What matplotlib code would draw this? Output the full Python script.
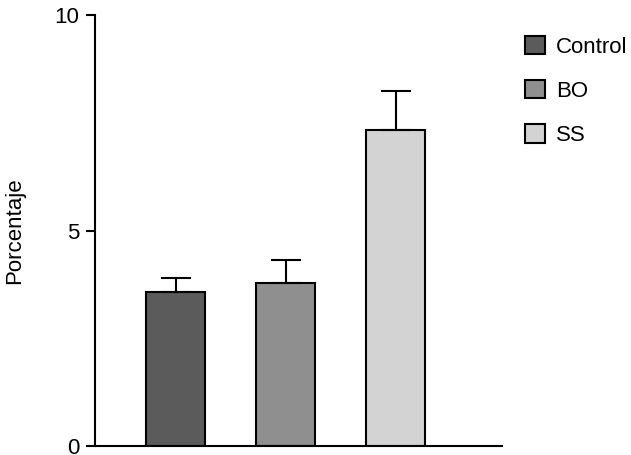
import matplotlib
matplotlib.use('Agg')
import matplotlib.pyplot as plt
from matplotlib.patches import Patch

plt.rcParams.update({
    'font.family': 'Liberation Sans',
    'font.size': 16,
})

# datos
grupos  = ['Control', 'BO', 'SS']
medias  = [3.57, 3.78, 7.34]
errores = [0.33, 0.53, 0.90]
colores = ['#5b5b5b', '#8f8f8f', '#d3d3d3']
yticks  = [0, 5, 10]

fig = plt.figure(figsize=(6.31, 4.55), dpi=100)
ax = fig.add_axes([0.1506, 0.0198, 0.645, 0.947])

x = range(len(grupos))
ax.bar(x, medias, width=0.536, color=colores, edgecolor='black', linewidth=1.5,
       zorder=2)
ax.errorbar(x, medias, yerr=[[0] * len(errores), errores], fmt='none',
            ecolor='black', elinewidth=1.5, capsize=10.5, capthick=1.5, zorder=3)

ax.set_xlim(-0.732, 2.968)
ax.set_ylim(0, 10)
ax.set_yticks(yticks)
ax.set_xticks([])
ax.spines['top'].set_visible(False)
ax.spines['right'].set_visible(False)
ax.spines['left'].set_linewidth(1.5)
ax.spines['bottom'].set_linewidth(1.5)
ax.tick_params(axis='y', direction='out', length=6.5, width=1.5, pad=5,
               labelsize=16)
ax.set_ylabel('Porcentaje', fontsize=16)
ax.yaxis.set_label_coords(-0.172, 0.5)

handles = [Patch(facecolor=c, edgecolor='black', linewidth=1.5) for c in colores]
fig.legend(handles, grupos, loc='upper left', bbox_to_anchor=(0.800, 0.965),
           frameon=False, fontsize=16, handlelength=0.9, handleheight=0.9,
           labelspacing=1.0, handletextpad=0.5)

fig.savefig('out.png', dpi=100, facecolor='white')
